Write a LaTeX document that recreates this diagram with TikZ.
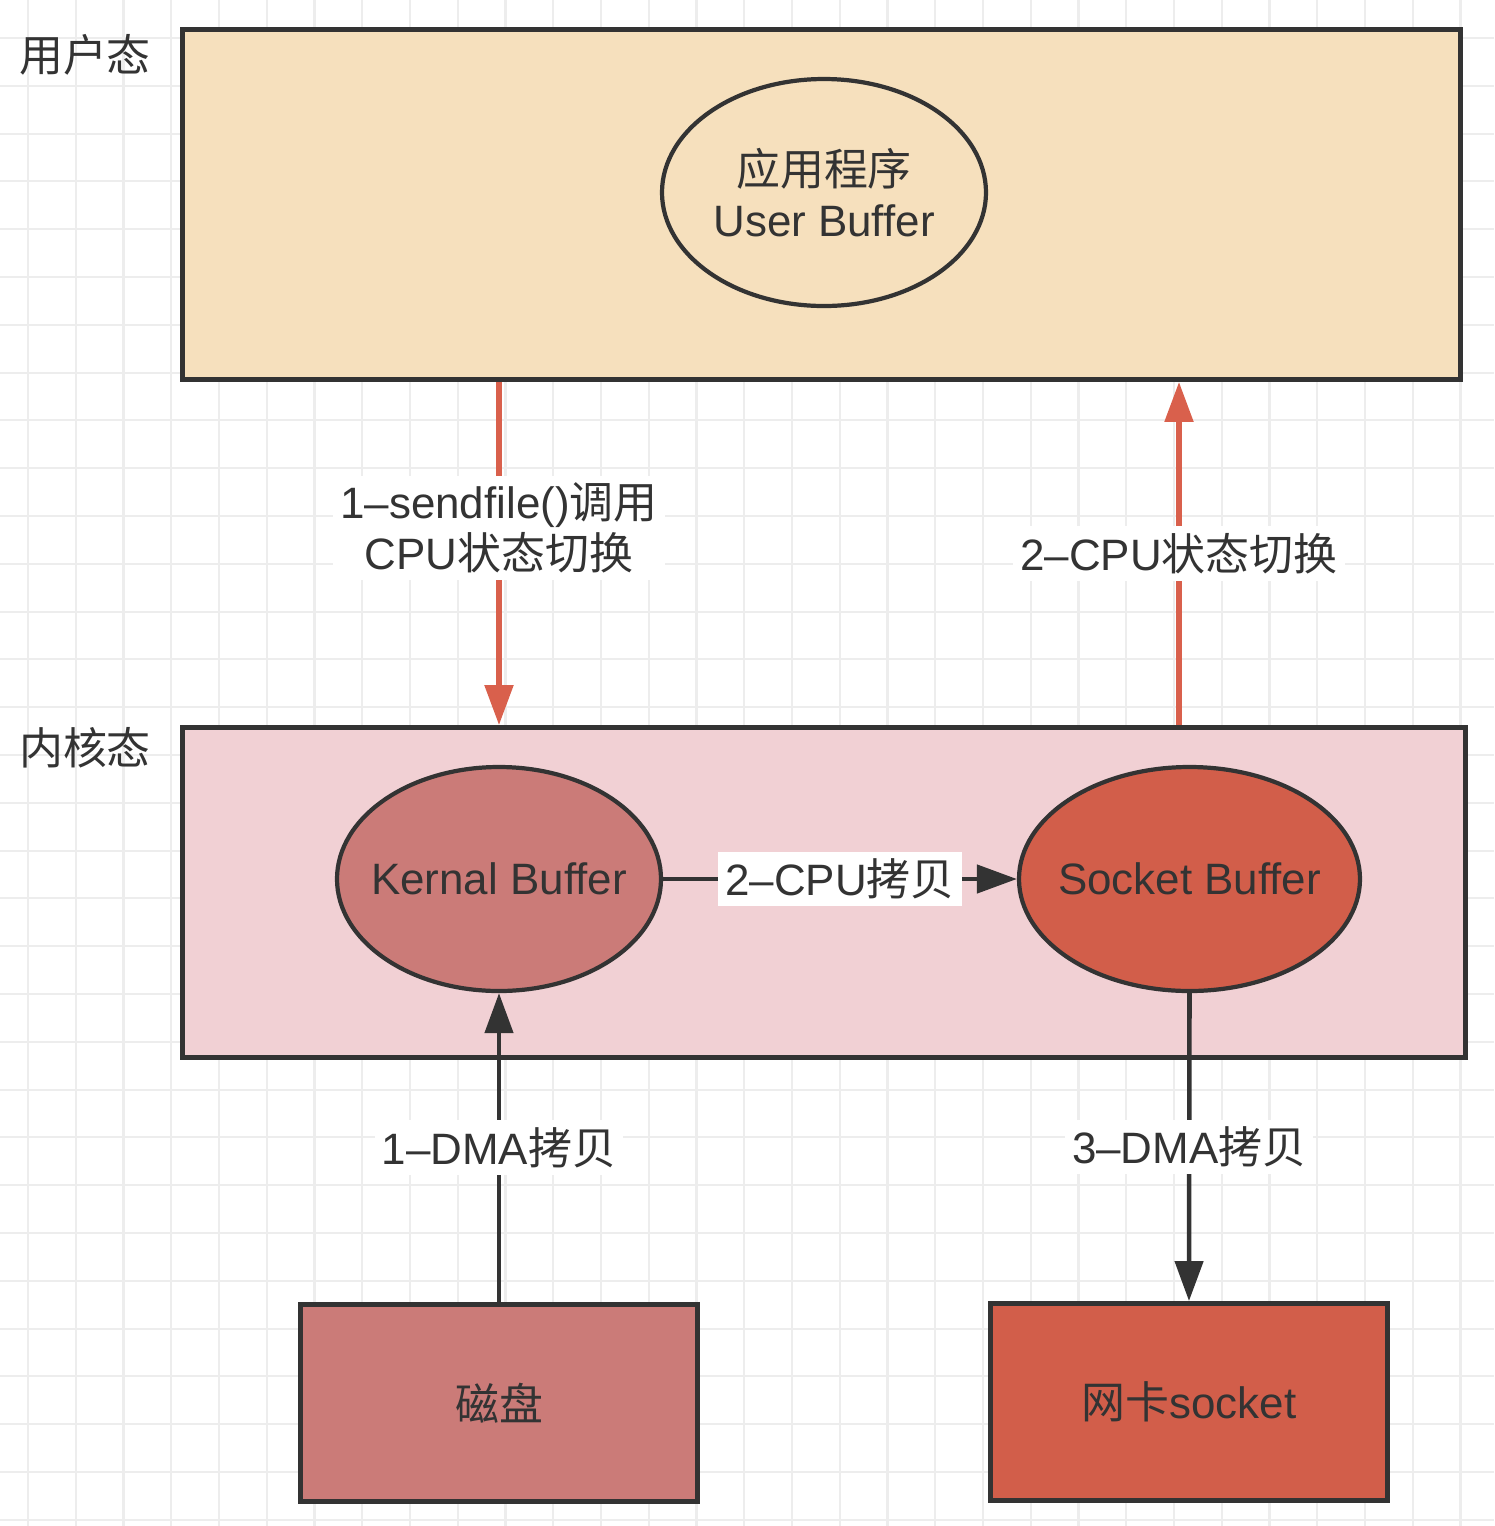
\documentclass[tikz,border=0pt]{standalone}
\usepackage{fontspec}
\setmainfont{Liberation Sans}
\newfontfamily\cjk{Noto Sans CJK SC}
\newcommand\zh[1]{{\cjk #1}}
\usetikzlibrary{arrows.meta,shapes.geometric}

\definecolor{inkgray}{HTML}{333333}
\definecolor{userfill}{HTML}{F6E0BD}
\definecolor{kernfill}{HTML}{F1D0D4}
\definecolor{rose}{HTML}{CB7B78}
\definecolor{brick}{HTML}{D25E4A}
\definecolor{switchred}{HTML}{D9604C}
\definecolor{gridgray}{HTML}{EDEDED}

\begin{document}
\begin{tikzpicture}[
  font=\fontsize{12.5}{14.5}\selectfont, text=inkgray,
  zone/.style={draw=inkgray, line width=1.4pt, inner sep=0pt},
  buffer/.style={ellipse, draw=inkgray, line width=1.2pt, inner sep=0pt, align=center},
  device/.style={draw=inkgray, line width=1.4pt, inner sep=0pt,
    minimum width=3.97cm, minimum height=1.97cm},
  tag/.style={fill=white, inner sep=2pt, align=center},
  copyflow/.style={-{Triangle[length=4mm,width=2.8mm]}, line width=1.3pt, draw=inkgray},
  switchflow/.style={-{Triangle[length=4mm,width=2.8mm]}, line width=1.5pt, draw=switchred},
  gridline/.style={draw=gridgray, line width=0.6pt}
]
  \useasboundingbox (0,0) rectangle (14.94,-15.26);

  % background grid
  \foreach \i in {0,...,30}
    \draw[gridline] ({0.28+0.4775*\i},0) -- ++(0,-15.26);
  \foreach \j in {0,...,31}
    \draw[gridline] (0,{-0.38-0.478*\j}) -- ++(14.94,0);

  % user space
  \node (userLabel) at (0.85,-0.55) {\zh{用户态}};
  \node[zone, fill=userfill, minimum width=12.78cm, minimum height=3.50cm]
    (userSpace) at (8.215,-2.045) {};
  \node[buffer, fill=userfill, minimum width=3.24cm, minimum height=2.27cm]
    (appBuf) at (8.24,-1.925) {\zh{应用程序}\\User Buffer};

  % kernel space
  \node (kernLabel) at (0.85,-7.48) {\zh{内核态}};
  \node[zone, fill=kernfill, minimum width=12.83cm, minimum height=3.30cm]
    (kernelSpace) at (8.24,-8.925) {};
  \node[buffer, fill=rose, minimum width=3.24cm, minimum height=2.24cm]
    (kernBuf) at (4.99,-8.79) {\makebox[0pt]{Kernal Buffer}};
  \node[buffer, fill=brick, minimum width=3.41cm, minimum height=2.24cm]
    (sockBuf) at (11.895,-8.79) {\makebox[0pt]{Socket Buffer}};

  % devices
  \node[device, fill=rose] (disk) at (4.99,-14.03) {\zh{磁盘}};
  \node[device, fill=brick] (nic) at (11.89,-14.02) {\zh{网卡}socket};

  % mode switches
  \coordinate (upX) at (11.79,-5.5);
  \draw[switchflow] (userSpace.south -| kernBuf) -- (kernelSpace.north -| kernBuf)
    node[tag, pos=0.425] {1–sendfile()\zh{调用}\\CPU\zh{状态切换}};
  \draw[switchflow] (kernelSpace.north -| upX) -- (userSpace.south -| upX)
    node[tag, midway] {2–CPU\zh{状态切换}};

  % copies
  \draw[copyflow] (disk.north) -- (kernBuf.south)
    node[tag, midway] {1–DMA\zh{拷贝}};
  \draw[copyflow] (kernBuf.east) -- (sockBuf.west)
    node[tag, midway] {2–CPU\zh{拷贝}};
  \draw[copyflow] (sockBuf.south) -- (nic.north)
    node[tag, midway] {3–DMA\zh{拷贝}};
\end{tikzpicture}
\end{document}
